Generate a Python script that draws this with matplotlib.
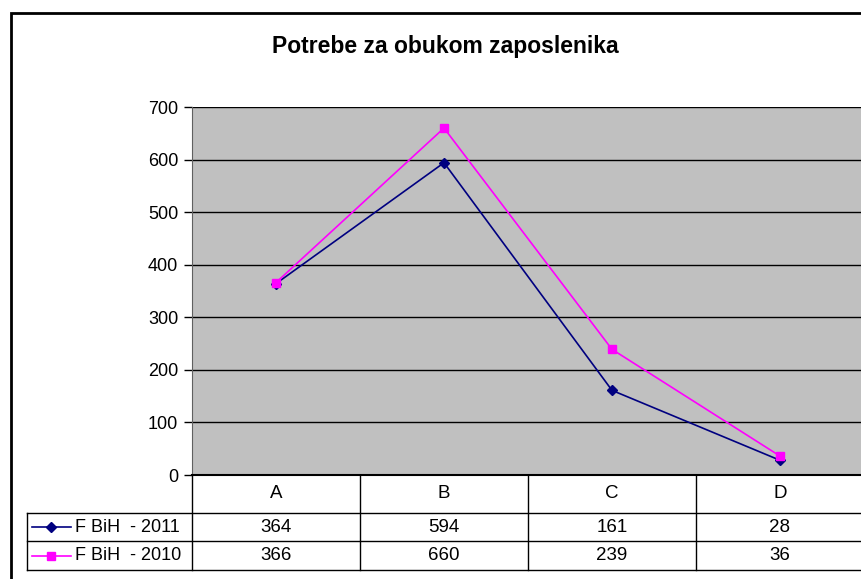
import matplotlib.pyplot as plt
from matplotlib.lines import Line2D
from matplotlib.patches import Rectangle

plt.rcParams['font.family'] = ['Liberation Sans', 'DejaVu Sans']

categories = ['A', 'B', 'C', 'D']
fbih_2011 = [364, 594, 161, 28]
fbih_2010 = [366, 660, 239, 36]
series_names = ['F BiH  - 2011', 'F BiH  - 2010']

W, H = 862, 579
fig = plt.figure(figsize=(W / 100, H / 100), dpi=100)

def fx(px):
    return px / W

def fy(py):
    return 1 - py / H

# chart outer border (runs off the right and bottom edges)
fig.patches.append(Rectangle((fx(11), fy(600)), 2, fy(13) - fy(600), transform=fig.transFigure,
                             fill=False, edgecolor='black', linewidth=2))

left, right, top, bottom = 192, 864, 107, 475
ax = fig.add_axes([fx(left), fy(bottom), fx(right) - fx(left), fy(top) - fy(bottom)])
ax.set_facecolor('#C0C0C0')

x = range(len(categories))
ax.plot(x, fbih_2011, color='#000080', marker='D', markersize=5, linewidth=1.2, zorder=3)
ax.plot(x, fbih_2010, color='#FF00FF', marker='s', markersize=6, linewidth=1.2, zorder=3)

ax.set_xlim(-0.5, len(categories) - 0.5)
ax.set_ylim(0, 700)
ax.set_yticks(range(0, 701, 100))
ax.yaxis.grid(True, color='black', linewidth=1)
ax.set_axisbelow(True)
ax.set_xticks([])
ax.tick_params(axis='y', labelsize=13, length=6, width=1, direction='out', pad=4)
for s in ['top', 'right']:
    ax.spines[s].set_visible(False)
ax.spines['left'].set_color('#606060')
ax.spines['bottom'].set_linewidth(1.5)

fig.text(fx(445), fy(47), 'Potrebe za obukom zaposlenika', ha='center', va='center',
         fontsize=16.5, fontweight='bold')

# data table below the plot
rows = [bottom, 513, 541, 570]
col_w = (right - left) / len(categories)
tkw = dict(transform=fig.transFigure, color='black', linewidth=1)
for yy in rows[1:]:
    fig.lines.append(Line2D([fx(27), fx(right)], [fy(yy), fy(yy)], **tkw))
fig.lines.append(Line2D([fx(27), fx(27)], [fy(rows[1]), fy(rows[3])], **tkw))
for i in range(len(categories) + 1):
    xx = left + i * col_w
    fig.lines.append(Line2D([fx(xx), fx(xx)], [fy(rows[0]), fy(rows[3])], **tkw))

tfs = 13.5
for i, c in enumerate(categories):
    cx = left + (i + 0.5) * col_w
    fig.text(fx(cx), fy((rows[0] + rows[1]) / 2), c, ha='center', va='center', fontsize=tfs)
    fig.text(fx(cx), fy((rows[1] + rows[2]) / 2), str(fbih_2011[i]), ha='center', va='center', fontsize=tfs)
    fig.text(fx(cx), fy((rows[2] + rows[3]) / 2), str(fbih_2010[i]), ha='center', va='center', fontsize=tfs)

styles = [('#000080', 'D', 5), ('#FF00FF', 's', 6)]
for r, (name, (col, mk, ms)) in enumerate(zip(series_names, styles)):
    yy = fy((rows[r + 1] + rows[r + 2]) / 2)
    fig.lines.append(Line2D([fx(32), fx(71)], [yy, yy], transform=fig.transFigure, color=col, linewidth=1.2))
    fig.lines.append(Line2D([fx(51)], [yy], transform=fig.transFigure, color=col, marker=mk, markersize=ms))
    fig.text(fx(75), yy, name, ha='left', va='center', fontsize=13)

fig.savefig('out.png', dpi=100)
